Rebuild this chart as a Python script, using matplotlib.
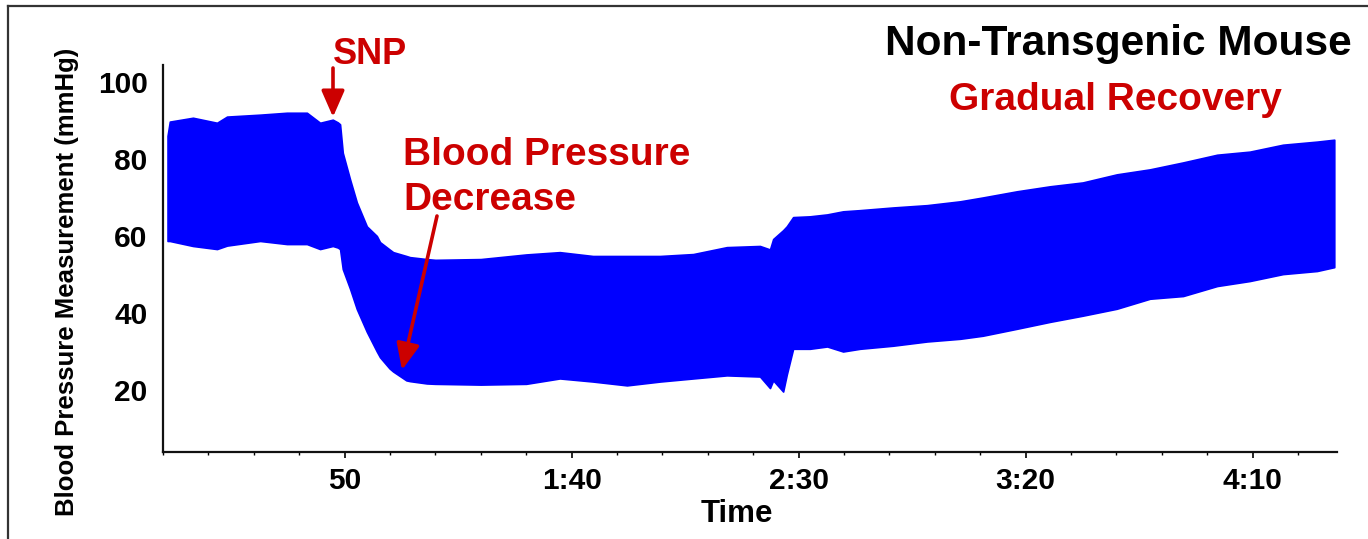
import matplotlib
matplotlib.use("Agg")
import matplotlib.pyplot as plt
from matplotlib.lines import Line2D
from matplotlib.patches import FancyArrowPatch
from matplotlib.ticker import MultipleLocator

time_s = [11.0, 11.5, 16.6, 21.9, 24.1, 31.4, 37.3, 41.7, 44.6, 47.4, 48.5, 49.0,
          49.6, 51.2, 52.7, 54.9, 57.1, 57.8, 59.9, 60.7, 63.6, 64.4, 68.1, 70.0,
          80.0, 90.0, 97.4, 104.7, 112.2, 119.5, 126.8, 134.2, 141.5, 143.7, 144.4,
          146.6, 147.4, 148.8, 152.5, 156.3, 159.8, 163.5, 170.8, 178.3, 185.6,
          190.6, 198.1, 205.4, 212.6, 220.1, 227.4, 234.7, 242.2, 249.4, 256.7,
          264.2, 268.0]
upper_mmHg = [86.0, 89.7, 90.7, 89.4, 91.0, 91.5, 92.0, 92.0, 89.4, 90.2, 89.5, 89.0,
              81.6, 74.7, 68.7, 62.5, 60.0, 58.4, 56.5, 55.8, 54.8, 54.5, 54.0, 53.8,
              54.0, 55.2, 55.8, 54.8, 54.8, 54.8, 55.3, 57.1, 57.4, 56.5, 59.2,
              61.5, 62.5, 64.9, 65.1, 65.6, 66.4, 66.7, 67.4, 68.0, 69.0,
              70.0, 71.6, 72.9, 73.9, 76.0, 77.3, 79.1, 81.1, 81.9, 83.7,
              84.5, 85.0]
lower_mmHg = [58.7, 58.7, 57.4, 56.6, 57.5, 58.7, 57.9, 57.9, 56.6, 57.4, 57.0, 56.6,
              51.4, 46.3, 41.0, 35.1, 30.0, 28.5, 25.6, 24.8, 22.5, 22.3, 21.7, 21.6,
              21.4, 21.6, 23.0, 22.2, 21.2, 22.2, 23.0, 23.8, 23.5, 20.5, 22.5,
              19.6, 24.0, 30.7, 30.7, 31.3, 30.0, 30.7, 31.5, 32.6, 33.3,
              34.1, 35.9, 37.7, 39.3, 41.1, 43.7, 44.4, 47.0, 48.3, 50.1,
              50.9, 51.9]

x_tick_values = [50, 100, 150, 200, 250]
x_tick_labels = ["50", "1:40", "2:30", "3:20", "4:10"]
y_tick_values = [20, 40, 60, 80, 100]
y_tick_labels = ["20", "40", "60", "80", "100"]

RED = "#CC0000"
BLUE = "#0000FF"
W, H = 1368, 539

plt.rcParams['font.family'] = ['Liberation Sans', 'DejaVu Sans']
plt.rcParams['font.weight'] = 'bold'

fig = plt.figure(figsize=(W / 100, H / 100), dpi=100)
fig.patch.set_facecolor("white")

def fx(px):
    return px / W

def fy(py):
    return 1 - py / H

ax = fig.add_axes([fx(163), fy(452), fx(1337) - fx(163), fy(65) - fy(452)])
ax.fill_between(time_s, lower_mmHg, upper_mmHg, color=BLUE, lw=1.2, edgecolor=BLUE)

ax.set_xlim(10, 268.6)
ax.set_ylim(3.9, 104.4)
for s in ["top", "right"]:
    ax.spines[s].set_visible(False)
for s in ["left", "bottom"]:
    ax.spines[s].set_linewidth(1.6)
    ax.spines[s].set_color("#111111")

ax.set_xticks(x_tick_values)
ax.set_xticklabels(x_tick_labels, fontsize=21.5, fontweight='bold')
ax.xaxis.set_minor_locator(MultipleLocator(10))
ax.tick_params(axis='x', which='major', length=4, width=1.2, direction='out', pad=7)
ax.tick_params(axis='x', which='minor', length=2.5, width=1.0, direction='out')
ax.set_yticks(y_tick_values)
ax.set_yticklabels(y_tick_labels, fontsize=21.5, fontweight='bold')
ax.tick_params(axis='y', which='major', length=0, pad=11)

# axis titles
fig.text(fx(737), fy(514), "Time", fontsize=22.5, fontweight='bold', ha='center', va='center')
fig.text(fx(67), fy(282), "Blood Pressure Measurement (mmHg)", fontsize=18.5,
         fontweight='bold', ha='center', va='center', rotation=90)

# titles / annotations
fig.text(fx(1118), fy(44), "Non-Transgenic Mouse", fontsize=30.5, fontweight='bold',
         ha='center', va='center', color='black')
fig.text(fx(1115), fy(100), "Gradual Recovery", fontsize=28, fontweight='bold',
         ha='center', va='center', color=RED)
fig.text(fx(370), fy(54), "SNP", fontsize=26, fontweight='bold',
         ha='center', va='center', color=RED)
fig.text(fx(403), fy(155), "Blood Pressure", fontsize=28, fontweight='bold',
         ha='left', va='center', color=RED)
fig.text(fx(403), fy(200), "Decrease", fontsize=28, fontweight='bold',
         ha='left', va='center', color=RED)

arrow_kw = dict(arrowstyle='-|>,head_width=0.35,head_length=0.8', color=RED, lw=2.6,
                mutation_scale=20, shrinkA=0, shrinkB=0)
fig.add_artist(FancyArrowPatch((fx(333), fy(68)), (fx(333), fy(117)),
               transform=fig.transFigure, **arrow_kw))
fig.add_artist(FancyArrowPatch((fx(437), fy(216)), (fx(402), fy(370)),
               transform=fig.transFigure, **arrow_kw))

# outer frame lines (left and top)
fig.add_artist(Line2D([fx(8), fx(8)], [0, fy(6)], transform=fig.transFigure,
                      color="#333333", lw=1.6))
fig.add_artist(Line2D([fx(8), 1], [fy(6), fy(6)], transform=fig.transFigure,
                      color="#333333", lw=1.6))

fig.savefig("out.png", dpi=100, facecolor="white")
